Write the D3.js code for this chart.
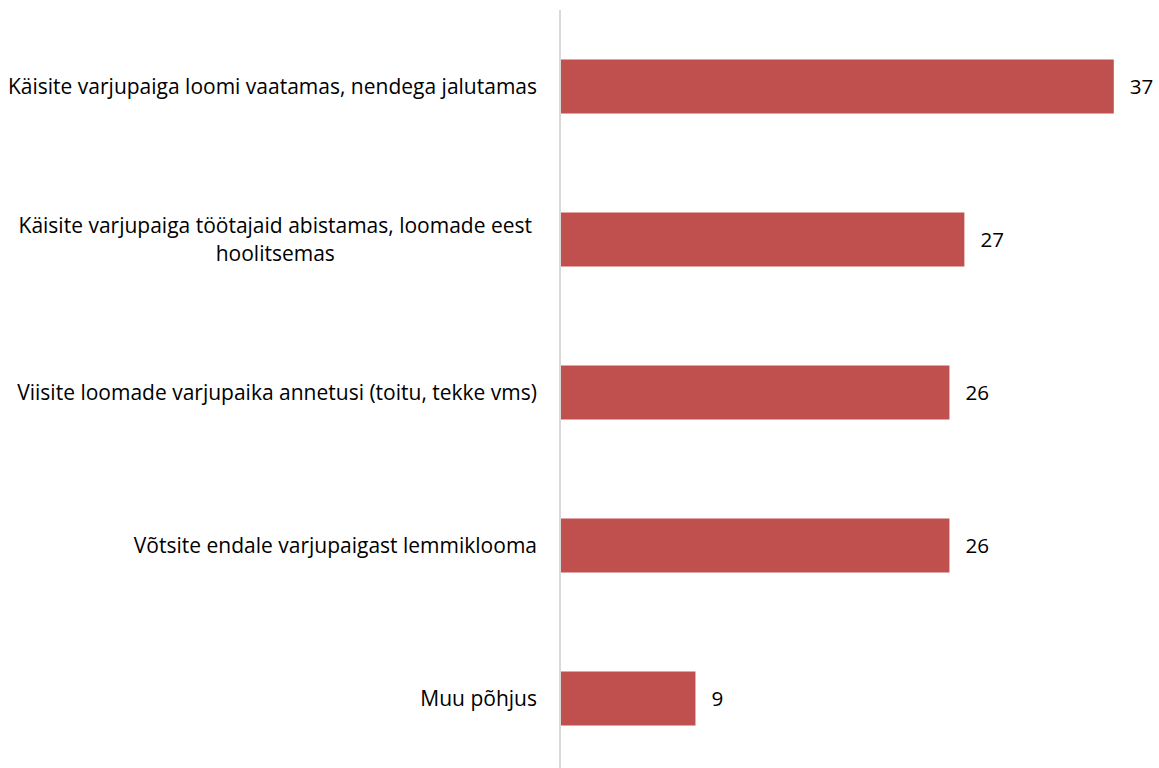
<!DOCTYPE html>
<html>
<head>
<meta charset="utf-8">
<script src="https://cdn.jsdelivr.net/npm/d3@7"></script>
<style>
  body { margin: 0; background: #fff; }
  text { font-family: "Open Sans", Lato, sans-serif; fill: #000; }
</style>
</head>
<body>
<script>
var categories = [
  "Käisite varjupaiga loomi vaatamas, nendega jalutamas",
  "Käisite varjupaiga töötajaid abistamas, loomade eest hoolitsemas",
  "Viisite loomade varjupaika annetusi (toitu, tekke vms)",
  "Võtsite endale varjupaigast lemmiklooma",
  "Muu põhjus"
]
var values = [37, 27, 26, 26, 9]

var width = 1159, height = 768
var fontSize = "21px"

var svg = d3.select("body").append("svg")
  .attr("width", width)
  .attr("height", height)

var x = d3.scaleLinear()
  .domain([0, 40])
  .range([561, 1158.6])

var y = d3.scaleBand()
  .domain(categories)
  .range([10, 775])
  .paddingInner(0.647)
  .paddingOuter(0.3235)

// bars
svg.append("g").selectAll("rect")
  .data(values)
  .enter()
  .append("rect")
  .attr("x", x(0))
  .attr("y", function(d, i) { return y(categories[i]) })
  .attr("width", function(d) { return x(d) - x(0) })
  .attr("height", y.bandwidth())
  .attr("fill", "#c0504d")

// vertical axis line
svg.append("line")
  .attr("x1", x(0) - 1).attr("x2", x(0) - 1)
  .attr("y1", y.range()[0]).attr("y2", height)
  .attr("stroke", "#d9d9d9")
  .attr("stroke-width", 2)

// value labels
svg.append("g").selectAll("text")
  .data(values)
  .enter()
  .append("text")
  .attr("x", function(d) { return x(d) + 16 })
  .attr("y", function(d, i) { return y(categories[i]) + y.bandwidth() / 2 })
  .attr("dy", "0.34em")
  .style("font-size", "20.6px")
  .text(function(d) { return d })

// category labels, wrapped
var maxW = 560, lineH = 28
var labels = svg.append("g").selectAll("text")
  .data(categories)
  .enter()
  .append("text")
  .attr("text-anchor", "middle")
  .style("font-size", fontSize)

labels.each(function(d) {
  var t = d3.select(this)
  var words = d.split(" "), lines = [], cur = []
  var probe = t.append("tspan")
  words.forEach(function(w) {
    cur.push(w)
    probe.text(cur.join(" "))
    if (probe.node().getComputedTextLength() > maxW && cur.length > 1) {
      cur.pop()
      lines.push(cur.join(" "))
      cur = [w]
    }
  })
  lines.push(cur.join(" "))
  probe.remove()

  var cy = y(d) + y.bandwidth() / 2
  var widest = 0
  lines.forEach(function(l, i) {
    var ts = t.append("tspan")
      .attr("y", cy + (i - (lines.length - 1) / 2) * lineH)
      .attr("dy", "0.34em")
      .text(l)
    widest = Math.max(widest, ts.node().getComputedTextLength())
  })
  // wrapped blocks are centred a bit further from the axis, like the original
  var right = lines.length > 1 ? 532 : 537
  var cx = right - widest / 2
  t.selectAll("tspan").attr("x", cx)
})
</script>
</body>
</html>
